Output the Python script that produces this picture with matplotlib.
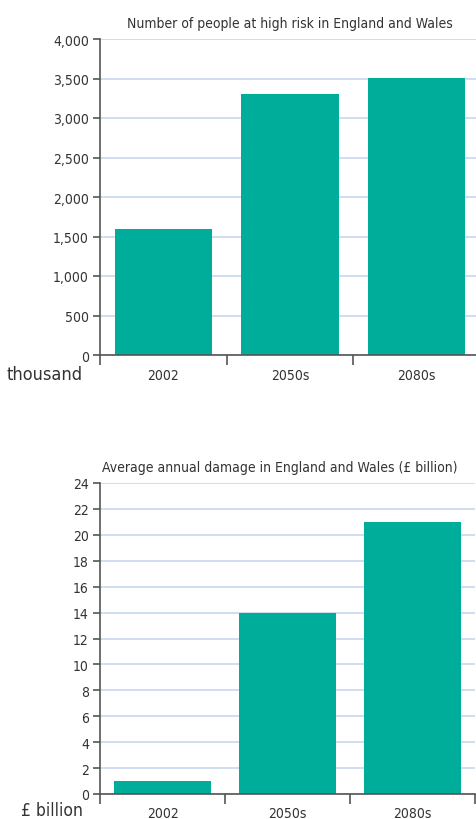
import matplotlib
matplotlib.use("Agg")
import matplotlib.pyplot as plt

plt.rcParams['font.family'] = ['DejaVu Sans']
plt.rcParams['font.stretch'] = 'condensed'

periods = ["2002", "2050s", "2080s"]
people_thousands = [1600, 3300, 3510]
damage_billion = [1, 14, 21]

people_ticks = list(range(0, 4001, 500))
damage_ticks = list(range(0, 25, 2))

BAR = "#00ad9a"
AXIS = "#555555"
GRID = "#c8d7ef"
TEXT = "#333333"

fig = plt.figure(figsize=(4.76, 8.2), dpi=100)


def style_axes(ax, ticks, fmt, ymax):
    ax.set_ylim(0, ymax)
    ax.set_xlim(-0.5, 2.5)
    ax.set_yticks(ticks)
    ax.set_yticklabels([fmt(t) for t in ticks], fontsize=10, color=TEXT)
    ax.set_xticks(range(len(periods)))
    ax.set_xticklabels(periods, fontsize=10, color=TEXT)
    ax.set_xticks([-0.5, 0.5, 1.5, 2.5], minor=True)
    ax.tick_params(axis="x", which="major", length=0, pad=9)
    ax.tick_params(axis="x", which="minor", length=7, color=AXIS, width=1.2)
    ax.tick_params(axis="y", length=5, color=AXIS, width=1.2, pad=3)
    for s in ("top", "right"):
        ax.spines[s].set_visible(False)
    for s in ("left", "bottom"):
        ax.spines[s].set_color(AXIS)
        ax.spines[s].set_linewidth(1.2)
    ax.yaxis.grid(True, color=GRID, linewidth=1.2)
    ax.set_axisbelow(True)


# people at high risk
ax1 = fig.add_axes([100 / 476, 464 / 820, 380 / 476, 316 / 820])
ax1.bar(range(len(periods)), people_thousands, width=0.766, color=BAR, zorder=2)
style_axes(ax1, people_ticks, lambda v: f"{v:,}", 4000)
fig.text(290 / 476, 1 - 24 / 820, "Number of people at high risk in England and Wales",
         ha="center", va="center", fontsize=10, color=TEXT)
fig.text(83 / 476, 1 - 375 / 820, "thousand", ha="right", va="center",
         fontsize=13, color=TEXT)

# annual damage
ax2 = fig.add_axes([100 / 476, 25 / 820, 375 / 476, 311 / 820])
ax2.bar(range(len(periods)), damage_billion, width=0.776, color=BAR, zorder=2)
style_axes(ax2, damage_ticks, lambda v: f"{v}", 24)
fig.text(280 / 476, 1 - 468 / 820, "Average annual damage in England and Wales (£ billion)",
         ha="center", va="center", fontsize=10, color=TEXT)
fig.text(83 / 476, 1 - 811 / 820, "£ billion", ha="right", va="center",
         fontsize=12.5, color=TEXT)

fig.savefig("out.png", dpi=100, facecolor="white")
